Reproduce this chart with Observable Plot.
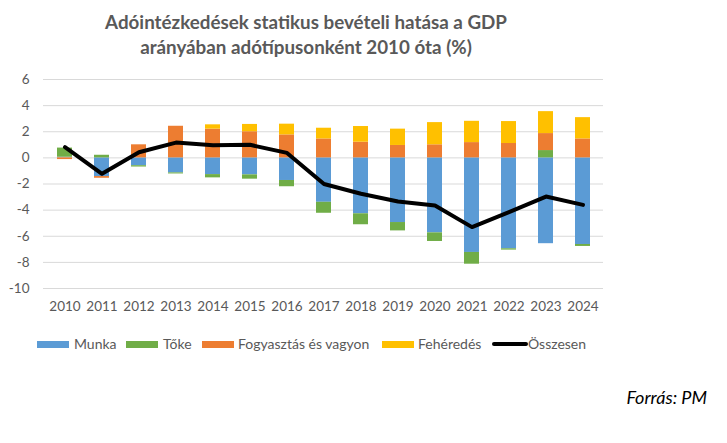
<!DOCTYPE html>
<html>
<head>
<meta charset="utf-8">
<script src="https://cdn.jsdelivr.net/npm/d3@7"></script>
<script src="https://cdn.jsdelivr.net/npm/@observablehq/plot@0.6"></script>
<style>
  html, body { margin: 0; padding: 0; background: #fff; }
  #root { position: relative; width: 727px; height: 443px; background: #fff; font-family: Lato, "Open Sans", sans-serif; overflow: hidden; }
  #title { position: absolute; left: 0; top: 9px; width: 612px; text-align: center; font-weight: bold; font-size: 18.8px; line-height: 25px; color: #595959; }
  #chart { position: absolute; left: 0; top: 0; }
  .sw { position: absolute; height: 7px; }
  .lt { position: absolute; font-size: 14px; color: #595959; line-height: 16px; white-space: nowrap; }
  #caption { position: absolute; right: 20px; top: 386px; font-size: 18px; font-style: italic; color: #000; }
</style>
</head>
<body>
<div id="root">
  <div id="title">Adóintézkedések statikus bevételi hatása a GDP<br>arányában adótípusonként 2010 óta (%)</div>
  <div id="chart"></div>
  <div id="legend"></div>
  <div id="caption">Forrás: PM</div>
</div>
<script>
const years = [2010, 2011, 2012, 2013, 2014, 2015, 2016, 2017, 2018, 2019, 2020, 2021, 2022, 2023, 2024];
const seriesNames = ["Munka", "Tőke", "Fogyasztás és vagyon", "Fehéredés"];
const seriesColors = ["#5B9BD5", "#70AD47", "#ED7D31", "#FFC000"];
const munka = [0.05, -1.43, -0.6, -1.15, -1.28, -1.3, -1.73, -3.4, -4.28, -4.95, -5.74, -7.24, -6.96, -6.57, -6.63];
const toke = [0.7, 0.2, -0.1, -0.08, -0.25, -0.33, -0.48, -0.84, -0.84, -0.64, -0.66, -0.9, -0.1, 0.56, -0.15];
const fogyasztas = [-0.13, -0.13, 1.0, 2.42, 2.2, 2.0, 1.76, 1.45, 1.2, 0.95, 1.0, 1.17, 1.1, 1.3, 1.45];
const feheredes = [0, 0, 0, 0, 0.33, 0.56, 0.82, 0.82, 1.2, 1.25, 1.7, 1.63, 1.68, 1.68, 1.63];
const osszesen = [0.82, -1.22, 0.43, 1.17, 0.97, 1.0, 0.38, -2.0, -2.75, -3.34, -3.65, -5.3, -4.16, -2.96, -3.6];
const yTicks = [6, 4, 2, 0, -2, -4, -6, -8, -10];
const lineName = "Összesen";

const seriesValues = [munka, toke, fogyasztas, feheredes];
const barData = [];
seriesNames.forEach((name, si) => {
  years.forEach((yr, i) => barData.push({year: yr, series: name, value: seriesValues[si][i]}));
});
const lineData = years.map((yr, i) => ({year: yr, value: osszesen[i]}));

const chart = Plot.plot({
  width: 727,
  height: 320,
  marginTop: 79,
  marginBottom: 32,
  marginLeft: 43,
  marginRight: 124,
  style: {fontFamily: "Lato, sans-serif", fontSize: "13.5px", color: "#595959", background: "transparent"},
  x: {type: "band", domain: years, paddingInner: 0.6, paddingOuter: 0.3, label: null, tickSize: 0, tickPadding: 13, tickFormat: d => String(d)},
  y: {domain: [-10, 6], ticks: yTicks, label: null, tickSize: 0, tickPadding: 14, tickFormat: d => String(d)},
  color: {domain: seriesNames, range: seriesColors},
  marks: [
    Plot.gridY(yTicks, {stroke: "#d9d9d9", strokeOpacity: 1, strokeWidth: 1}),
    Plot.barY(barData, {x: "year", y: "value", fill: "series"}),
    Plot.line(lineData, {x: "year", y: "value", stroke: "#000", strokeWidth: 4, strokeLinejoin: "round", strokeLinecap: "round"})
  ]
});
document.getElementById("chart").appendChild(chart);

// legend
const legend = document.getElementById("legend");
const items = [
  {name: seriesNames[0], color: seriesColors[0], sx: 37, tx: 74},
  {name: seriesNames[1], color: seriesColors[1], sx: 126, tx: 163},
  {name: seriesNames[2], color: seriesColors[2], sx: 202, tx: 238},
  {name: seriesNames[3], color: seriesColors[3], sx: 382, tx: 418},
  {name: lineName, color: "#000", sx: 492, tx: 528, line: true}
];
items.forEach(it => {
  const sw = document.createElement("div");
  sw.className = "sw";
  sw.style.left = it.sx + "px";
  sw.style.width = (it.line ? 36 : 32) + "px";
  sw.style.background = it.color;
  if (it.line) { sw.style.height = "4px"; sw.style.top = "342px"; sw.style.borderRadius = "2px"; }
  else { sw.style.top = "341px"; }
  legend.appendChild(sw);
  const t = document.createElement("div");
  t.className = "lt";
  t.style.left = it.tx + "px";
  t.style.top = "336px";
  t.textContent = it.name;
  legend.appendChild(t);
});
</script>
</body>
</html>
